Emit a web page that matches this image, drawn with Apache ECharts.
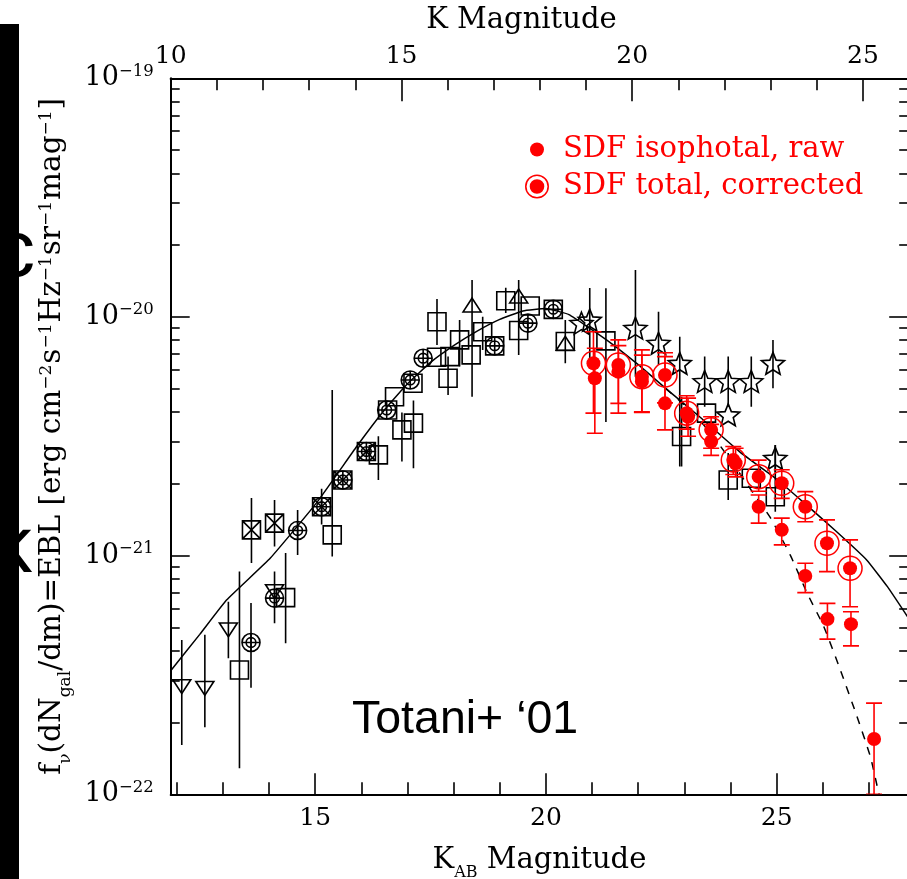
<!DOCTYPE html>
<html><head><meta charset="utf-8">
<script src="https://cdn.jsdelivr.net/npm/echarts@6/dist/echarts.min.js"></script>
<style>html,body{margin:0;padding:0;background:#fff}#c{width:907px;height:879px}</style>
</head><body><div id="c"></div>
<script>
// ---------- axis ticks / labels ----------
const kabMajor = [15, 20, 25];
const kabMinor = [12, 13, 14, 16, 17, 18, 19, 21, 22, 23, 24, 26, 27];
const kMajor = [10, 15, 20, 25];
const kMinor = [11, 12, 13, 14, 16, 17, 18, 19, 21, 22, 23, 24];
const yMajor = [-22, -21, -20, -19];
const yExpLabels = ['\u221222', '\u221221', '\u221220', '\u221219'];

// ---------- data: [K_AB, log10 f] and error bars [K_AB, low, high] ----------
const downTri = [[12.11,-21.549],[12.61,-21.556],[13.12,-21.311],[14.12,-21.151]];
const downTriErr = [[12.11,-21.793,-21.353],[12.61,-21.719,-21.332],[13.12,-21.43,-21.193],[14.12,-21.283,-21.067]];
const upTri = [[18.40,-19.950],[19.41,-19.912],[20.42,-20.11]];
const upTriErr = [[18.40,-20.334,-19.845],[19.41,-20.159,-19.845]];
const squares = [[13.36,-21.479],[14.36,-21.176],[15.37,-20.913],[16.37,-20.578],[16.57,-20.39],[16.72,-20.334],[16.88,-20.473],[17.13,-20.445],[17.12,-20.278],[17.63,-20.169],[17.64,-20.02],[17.88,-20.257],[17.92,-20.166],[18.13,-20.096],[18.38,-20.159],[18.63,-20.062],[18.89,-20.121],[19.13,-19.932],[19.41,-20.057],[19.66,-19.954],[20.16,-19.968],[20.42,-20.103],[21.3,-20.10],[22.94,-20.501],[23.48,-20.403],[23.95,-20.683],[24.45,-20.676],[24.97,-20.753]];
const squaresErr = [[13.36,-21.891,-21.067],[14.36,-21.367,-20.989],[15.37,-21.004,-20.306],[16.37,-20.683,-20.5],[16.88,-20.606,-20.4],[17.13,-20.634,-20.35],[17.64,-20.117,-19.925],[17.88,-20.327,-20.166],[18.13,-20.208,-20.013],[18.63,-20.138,-19.999],[19.13,-19.983,-19.878],[20.42,-20.194,-20.013],[21.3,-20.44,-19.88],[22.94,-20.627,-20.334],[23.95,-20.767,-20.57],[24.97,-20.816,-20.536]];
const crossSq = [[13.62,-20.892],[14.12,-20.864],[15.14,-20.795],[15.60,-20.683],[16.11,-20.564]];
const crossSqErr = [[13.62,-21.031,-20.758],[14.12,-20.962,-20.767]];
const concentric = [[13.61,-21.364],[14.12,-21.178],[14.62,-20.895],[15.14,-20.795],[15.60,-20.683],[16.11,-20.564],[16.55,-20.39],[17.06,-20.264],[17.34,-20.173],[18.89,-20.121],[19.61,-20.026],[20.16,-19.968]];
const concentricErr = [[13.61,-21.554,-21.198],[14.62,-20.997,-20.809],[15.14,-20.87,-20.72]];
const stars = [[20.77,-20.026],[20.95,-20.013],[21.94,-20.047],[22.44,-20.11],[22.90,-20.194],[23.44,-20.27],[23.95,-20.27],[24.45,-20.27],[24.92,-20.194],[23.95,-20.41],[24.97,-20.592]];
const starsErr = [[20.95,-20.208,-19.879],[21.94,-20.25,-19.803],[22.44,-20.2,-19.978],[22.90,-20.627,-20.083],[23.44,-20.376,-20.166],[23.95,-20.376,-20.166],[24.45,-20.376,-20.166],[24.92,-20.299,-20.097],[24.97,-20.65,-20.536]];
const sdfRaw = [[21.06,-20.257],[21.57,-20.23],[22.08,-20.27],[22.58,-20.362],[23.08,-20.418],[23.58,-20.522],[24.11,-20.613],[24.61,-20.795],[25.11,-20.892],[25.62,-21.085],[26.10,-21.266],[26.61,-21.287],[27.11,-21.768]];
const sdfRawErr = [[21.06,-20.487,-20.131],[21.57,-20.403,-20.12],[22.08,-20.4,-20.16],[22.58,-20.473,-20.166],[23.08,-20.5,-20.34],[23.58,-20.58,-20.45],[24.11,-20.67,-20.55],[24.61,-20.864,-20.746],[25.11,-20.955,-20.843],[25.62,-21.155,-21.032],[26.10,-21.35,-21.2],[26.61,-21.378,-21.235],[27.11,-22.0,-21.618]];
const sdfTot = [[21.03,-20.194],[21.57,-20.201],[22.08,-20.25],[22.58,-20.243],[23.05,-20.403],[23.58,-20.473],[24.06,-20.599],[24.61,-20.669],[25.11,-20.697],[25.62,-20.795],[26.09,-20.948],[26.59,-21.053]];
const sdfTotErr = [[21.03,-20.403,-20.062],[21.57,-20.362,-20.096],[22.08,-20.397,-20.138],[22.58,-20.36,-20.15],[23.05,-20.47,-20.33],[23.58,-20.55,-20.418],[24.06,-20.66,-20.543],[24.61,-20.73,-20.60],[25.11,-20.76,-20.64],[25.62,-20.858,-20.732],[26.09,-21.067,-20.85],[26.59,-21.214,-20.934]];
const modelSolid = [[11.87,-21.482],[12.5,-21.33],[13.08,-21.186],[14.03,-21.01],[15.03,-20.779],[15.9,-20.543],[16.5,-20.39],[17.0,-20.28],[17.5,-20.19],[18.0,-20.12],[18.5,-20.06],[19.0,-20.01],[19.5,-19.975],[20.0,-19.965],[20.5,-19.99],[21.32,-20.097],[22.0,-20.2],[22.6,-20.3],[23.33,-20.418],[24.2,-20.565],[25.0,-20.68],[25.6,-20.78],[26.3,-20.9],[26.95,-21.018],[27.4,-21.13],[27.85,-21.26]];
const modelDashed = [[22.6,-20.3],[23.0,-20.37],[23.5,-20.47],[24.0,-20.6],[24.5,-20.74],[24.86,-20.84],[25.3,-21.0],[25.66,-21.157],[26.02,-21.297],[26.38,-21.479],[26.74,-21.674],[27.03,-21.842],[27.18,-21.968],[27.22,-22.0]];

// ---------- styling ----------
const SERIF = 'DejaVu Serif';
const RED = '#ff0000';
const X_MIN = 11.87, X_MAX = 27.85, KTOP_MIN = 10, KTOP_MAX = 25.98;
const yMinor = [];
for (let n = -22; n < -19; n++) for (let k = 2; k <= 9; k++) yMinor.push(n + Math.log10(k));

const SYM = {
  square: 'path://M0,0H10V10H0Z',
  cross: 'path://M0,0H10V10H0Z M0,0L10,10 M10,0L0,10',
  conc: 'path://M0,5A5,5 0 1,1 10,5A5,5 0 1,1 0,5Z M2.3,5A2.7,2.7 0 1,1 7.7,5A2.7,2.7 0 1,1 2.3,5Z M5,0V10 M0,5H10',
  down: 'path://M0,0H10L5,8.66Z',
  up: 'path://M5,0L10,8.66H0Z',
  star: 'path://M5,0L6.293,3.22L9.755,3.455L7.092,5.68L7.939,9.045L5,7.2L2.061,9.045L2.908,5.68L0.245,3.455L3.707,3.22Z'
};

function errSeries(data, color, capHalf) {
  return {
    type: 'custom', data: data, clip: true, silent: true, z: color === RED ? 4 : 2,
    encode: { x: 0, y: [1, 2] },
    renderItem: function (params, api) {
      const x = api.value(0), lo = api.value(1), hi = api.value(2);
      const a = api.coord([x, lo]), b = api.coord([x, hi]);
      const st = { stroke: color, lineWidth: 1.6, fill: null };
      const ch = [{ type: 'line', shape: { x1: a[0], y1: a[1], x2: b[0], y2: b[1] }, style: st }];
      if (capHalf) {
        ch.push({ type: 'line', shape: { x1: a[0] - capHalf, y1: a[1], x2: a[0] + capHalf, y2: a[1] }, style: st });
        ch.push({ type: 'line', shape: { x1: b[0] - capHalf, y1: b[1], x2: b[0] + capHalf, y2: b[1] }, style: st });
      }
      return { type: 'group', children: ch };
    }
  };
}
function symSeries(name, data, symbol, size) {
  return {
    name: name, type: 'scatter', data: data, symbol: symbol, symbolSize: size, symbolKeepAspect: true,
    itemStyle: { color: 'rgba(0,0,0,0)', borderColor: '#000', borderWidth: 1.6, opacity: 1 },
    z: 3, silent: true
  };
}
const blackErr = [].concat(downTriErr, upTriErr, squaresErr, crossSqErr, concentricErr, starsErr);

const chart = echarts.init(document.getElementById('c'), null, { renderer: 'canvas' });
const tickLabelStyle = { color: '#000', fontFamily: SERIF, fontSize: 25 };

chart.setOption({
  animation: false,
  backgroundColor: '#fff',
  grid: { left: 170.7, top: 78.3, width: 737.5, height: 716, outerBoundsMode: 'none', containLabel: false },
  xAxis: [
    { type: 'value', position: 'bottom', min: X_MIN, max: X_MAX,
      name: '{m|K}{sb|AB}{m| Magnitude}', nameLocation: 'middle', nameGap: 52,
      nameTextStyle: { rich: { m: { fontFamily: SERIF, fontSize: 29, color: '#000' }, sb: { fontFamily: SERIF, fontSize: 16, color: '#000', verticalAlign: 'bottom', padding: [0, 0, -6, 0] } } },
      axisLine: { lineStyle: { color: '#000', width: 2 } },
      axisTick: { inside: true, length: 21, customValues: kabMajor, lineStyle: { color: '#000', width: 1.6 } },
      axisLabel: Object.assign({ margin: 12, customValues: kabMajor }, tickLabelStyle),
      splitLine: { show: false } },
    { type: 'value', position: 'bottom', min: X_MIN, max: X_MAX,
      axisLine: { show: false }, axisLabel: { show: false }, splitLine: { show: false },
      axisTick: { inside: true, length: 12, customValues: kabMinor, lineStyle: { color: '#000', width: 1.6 } } },
    { type: 'value', position: 'top', min: KTOP_MIN, max: KTOP_MAX,
      name: 'K Magnitude', nameLocation: 'middle', nameGap: 43,
      nameTextStyle: { fontFamily: SERIF, fontSize: 29, color: '#000', padding: [0, 36, 0, 0] },
      axisLine: { lineStyle: { color: '#000', width: 2 } },
      axisTick: { inside: true, length: 23, customValues: kMajor, lineStyle: { color: '#000', width: 1.6 } },
      axisLabel: Object.assign({ margin: 9, customValues: kMajor }, tickLabelStyle),
      splitLine: { show: false } },
    { type: 'value', position: 'top', min: KTOP_MIN, max: KTOP_MAX,
      axisLine: { show: false }, axisLabel: { show: false }, splitLine: { show: false },
      axisTick: { inside: true, length: 12, customValues: kMinor, lineStyle: { color: '#000', width: 1.6 } } }
  ],
  yAxis: [
    { type: 'value', position: 'left', min: -22, max: -19, interval: 1,
      name: '{m|f}{sb|\u03bd}{m|(dN}{sb|gal}{m|/dm)=EBL [erg cm}{sp|\u22122}{m|s}{sp|\u22121}{m|Hz}{sp|\u22121}{m|sr}{sp|\u22121}{m|mag}{sp|\u22121}{m|]}',
      nameLocation: 'middle', nameRotate: 90, nameGap: 92,
      nameTextStyle: { rich: {
        m: { fontFamily: SERIF, fontSize: 29.5, color: '#000' },
        sb: { fontFamily: SERIF, fontSize: 17, color: '#000', verticalAlign: 'bottom', padding: [0, 0, -6, 0] },
        sp: { fontFamily: SERIF, fontSize: 17, color: '#000', verticalAlign: 'top', padding: [0, 1, 0, 0] } } },
      axisLine: { lineStyle: { color: '#000', width: 2 } },
      axisTick: { inside: true, length: 19, lineStyle: { color: '#000', width: 1.6 } },
      axisLabel: { margin: 17, formatter: function (v) { const i = yMajor.indexOf(Math.round(v)); return '{b|10}{s|' + yExpLabels[i] + '}'; },
        rich: { b: { fontFamily: SERIF, fontSize: 27, color: '#000', lineHeight: 31 }, s: { fontFamily: SERIF, fontSize: 16.5, color: '#000', verticalAlign: 'top' } } },
      splitLine: { show: false } },
    { type: 'value', position: 'left', min: -22, max: -19,
      axisLine: { show: false }, axisLabel: { show: false }, splitLine: { show: false },
      axisTick: { inside: true, length: 9, customValues: yMinor, lineStyle: { color: '#000', width: 1.6 } } },
    { type: 'value', position: 'right', min: -22, max: -19, interval: 1,
      axisLine: { lineStyle: { color: '#000', width: 2 } }, axisLabel: { show: false }, splitLine: { show: false },
      axisTick: { inside: true, length: 19, lineStyle: { color: '#000', width: 1.6 } } },
    { type: 'value', position: 'right', min: -22, max: -19,
      axisLine: { show: false }, axisLabel: { show: false }, splitLine: { show: false },
      axisTick: { inside: true, length: 9, customValues: yMinor, lineStyle: { color: '#000', width: 1.6 } } }
  ],
  legend: {
    orient: 'vertical', left: 520, top: 130, itemWidth: 42, itemHeight: 24, itemGap: 8,
    selectedMode: false,
    textStyle: { color: RED, fontFamily: SERIF, fontSize: 29 },
    data: [
      { name: 'SDF isophotal, raw', icon: 'path://M0,0L0,0M24,24L24,24M5,12A7,7 0 1,1 19,12A7,7 0 1,1 5,12Z', itemStyle: { color: RED, borderWidth: 0 } },
      { name: 'SDF total, corrected', icon: 'path://M0.5,12A11.5,11.5 0 1,1 23.5,12A11.5,11.5 0 1,1 0.5,12Z M2,12A10,10 0 1,0 22,12A10,10 0 1,0 2,12Z M5,12A7,7 0 1,1 19,12A7,7 0 1,1 5,12Z', itemStyle: { color: RED, borderWidth: 0 } }
    ]
  },
  graphic: [
    { type: 'rect', left: 0, top: 24, shape: { width: 19, height: 855 }, style: { fill: '#000' }, z: 10 },
    { type: 'text', x: -5, y: 294, style: { text: 'c', font: '80px "Liberation Sans"', fill: '#000', verticalAlign: 'bottom' }, z: 10 },
    { type: 'text', x: -8, y: 590, style: { text: 'k', font: '80px "Liberation Sans"', fill: '#000', verticalAlign: 'bottom' }, z: 10 },
    { type: 'text', x: 352, y: 720, style: { text: 'Totani+ \u201801', font: '46.5px "Liberation Sans"', fill: '#000', verticalAlign: 'middle' }, z: 10 }
  ],
  series: [
    { type: 'line', data: modelSolid, showSymbol: false, smooth: 0.12, clip: true, silent: true, z: 1,
      lineStyle: { color: '#000', width: 1.5 } },
    { type: 'line', data: modelDashed, showSymbol: false, smooth: 0.2, clip: true, silent: true, z: 1,
      lineStyle: { color: '#000', width: 1.5, type: [8, 8] } },
    errSeries(blackErr, '#000', 0),
    symSeries('down', downTri, SYM.down, [18, 16]),
    symSeries('up', upTri, SYM.up, [18, 16]),
    symSeries('sq', squares, SYM.square, 18),
    symSeries('cross', crossSq, SYM.cross, 18),
    symSeries('conc', concentric, SYM.conc, 18),
    symSeries('star', stars, SYM.star, 23),
    errSeries(sdfRawErr, RED, 8),
    errSeries(sdfTotErr, RED, 8),
    { name: 'SDF total, corrected', type: 'scatter', data: sdfTot, symbol: 'circle', symbolSize: 24, silent: true, z: 5,
      itemStyle: { color: 'rgba(255,0,0,0)', borderColor: RED, borderWidth: 1.5, opacity: 1 } },
    { name: 'corrected-dot', type: 'scatter', data: sdfTot, symbol: 'circle', symbolSize: 14, silent: true, z: 5,
      itemStyle: { color: RED, opacity: 1 } },
    { name: 'SDF isophotal, raw', type: 'scatter', data: sdfRaw, symbol: 'circle', symbolSize: 14, silent: true, z: 5,
      itemStyle: { color: RED, opacity: 1 } }
  ]
});
</script></body></html>
